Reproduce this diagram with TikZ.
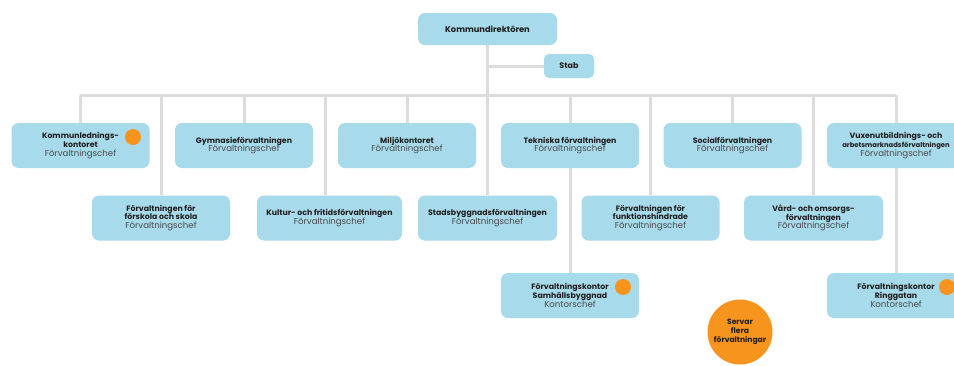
\documentclass[tikz,border=0pt]{standalone}
\usepackage{fontspec}
\setmainfont{Poppins}
\usetikzlibrary{backgrounds}
\definecolor{boxblue}{HTML}{A7DAEB}
\definecolor{dotorange}{HTML}{F7941D}
\definecolor{linegray}{HTML}{DCDCDC}
\definecolor{txtdark}{HTML}{1E1E1E}
\definecolor{txtsub}{HTML}{4A4A4A}
\newcommand{\nm}[1]{{\bfseries\color{txtdark}#1}}
\newcommand{\sub}[1]{{\fontsize{8.6pt}{9pt}\selectfont\color{txtsub}#1}}
\tikzset{
  unit/.style={rectangle, rounded corners=7pt, fill=boxblue, minimum width=138pt,
    minimum height=45pt, align=center, inner sep=1pt,
    font=\fontsize{7.8pt}{8.8pt}\selectfont},
  conn/.style={draw=linegray, line width=3pt},
  odot/.style={circle, fill=dotorange, minimum size=16pt, inner sep=0pt},
}
\begin{document}
\begin{tikzpicture}[x=1pt,y=-1pt]
\useasboundingbox (0,0) rectangle (954,365);
\clip (0,0) rectangle (954,365);
% nodes
\node[unit, minimum width=139pt, minimum height=32pt, font=\fontsize{8.3pt}{9pt}\selectfont] (kd) at (487.5,29) {\nm{Kommundirektören}};
\node[unit, minimum width=50pt, minimum height=24pt, rounded corners=5pt, font=\fontsize{8pt}{9pt}\selectfont] (stab) at (569,66) {\nm{Stab}};
% row 1
\node[unit] (kl) at (80.5,145.5) {\nm{Kommunlednings-}\\\nm{kontoret}\\\sub{Förvaltningschef}};
\node[unit] (gym) at (244,145.5) {\nm{Gymnasieförvaltningen}\\\sub{Förvaltningschef}};
\node[unit] (mil) at (407,145.5) {\nm{Miljökontoret}\\\sub{Förvaltningschef}};
\node[unit] (tek) at (570,145.5) {\nm{Tekniska förvaltningen}\\\sub{Förvaltningschef}};
\node[unit] (soc) at (732.5,145.5) {\nm{Socialförvaltningen}\\\sub{Förvaltningschef}};
\node[unit] (vux) at (896,145.5) {\nm{Vuxenutbildnings- och}\\\nm{\fontsize{6.8pt}{8.8pt}\selectfont arbetsmarknadsförvaltningen}\\\sub{Förvaltningschef}};
% row 2
\node[unit] (fsk) at (161,218) {\nm{Förvaltningen för}\\\nm{förskola och skola}\\\sub{Förvaltningschef}};
\node[unit, minimum width=145pt] (kul) at (329.5,218) {\nm{Kultur- och fritidsförvaltningen}\\\sub{Förvaltningschef}};
\node[unit, minimum width=139pt] (sbf) at (487.5,218) {\nm{Stadsbyggnadsförvaltningen}\\\sub{Förvaltningschef}};
\node[unit] (fun) at (650.5,218) {\nm{Förvaltningen för}\\\nm{funktionshindrade}\\\sub{Förvaltningschef}};
\node[unit, minimum width=139pt] (vao) at (813.5,218) {\nm{Vård- och omsorgs-}\\\nm{förvaltningen}\\\sub{Förvaltningschef}};
% row 3
\node[unit] (fks) at (570,295.5) {\nm{Förvaltningskontor}\\\nm{Samhällsbyggnad}\\\sub{Kontorschef}};
\node[unit] (fkr) at (896,295.5) {\nm{Förvaltningskontor}\\\nm{Ringgatan}\\\sub{Kontorschef}};
% orange markers
\node[odot] (d1) at (133,137) {};
\node[odot] (d2) at (623,287) {};
\node[odot] (d3) at (947,287) {};
\node[circle, fill=dotorange, minimum size=65pt, inner sep=0pt, align=center,
  font=\fontsize{7.6pt}{8.8pt}\selectfont] (serv) at (740,332) {\nm{Servar}\\\nm{flera}\\\nm{förvaltningar}};
% connectors
\coordinate (busL) at (80,95);
\coordinate (busR) at (896,95);
\begin{scope}[on background layer]
\fill[white] (0,0) rectangle (954,365);
\draw[conn] (kd.south) -- (sbf.north);
\draw[conn] (stab.west) -- (stab.west -| kd.south);
\draw[conn] (busL) -- (busR);
\draw[conn] (kl.north -| busL) -- (busL);
\draw[conn] (fsk.north) -- (fsk.north |- busL);
\draw[conn] (gym.north) -- (gym.north |- busL);
\draw[conn] ([xshift=-4.5pt]kul.north) -- ([xshift=-4.5pt]kul.north |- busL);
\draw[conn] (mil.north) -- (mil.north |- busL);
\draw[conn] (tek.north) -- (tek.north |- busL);
\draw[conn] (fun.north) -- (fun.north |- busL);
\draw[conn] (soc.north) -- (soc.north |- busL);
\draw[conn] (vao.north) -- (vao.north |- busL);
\draw[conn] (vux.north -| busR) -- (busR);
\draw[conn] (tek.south) -- (fks.north);
\draw[conn] (vux.south) -- (fkr.north);
\end{scope}
\end{tikzpicture}
\end{document}
